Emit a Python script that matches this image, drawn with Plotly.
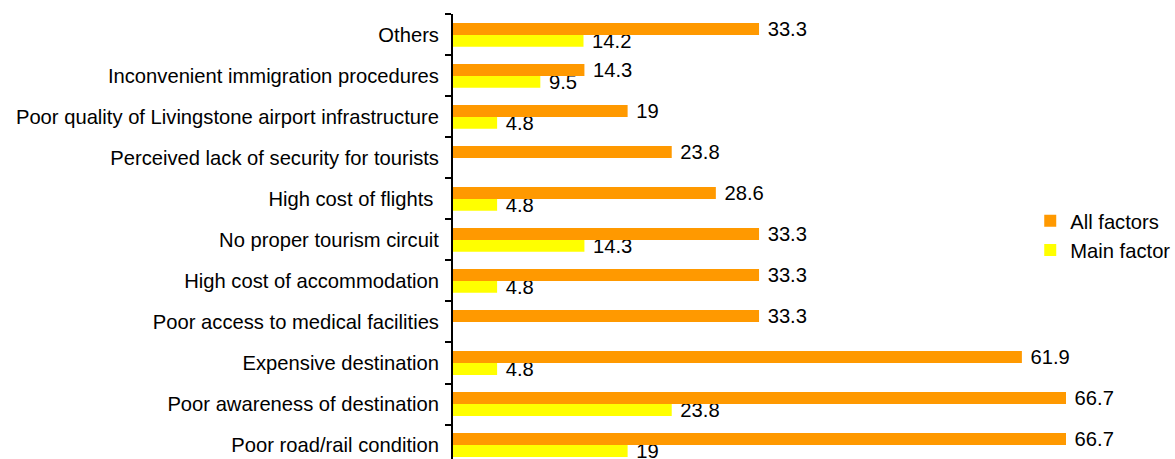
import plotly.graph_objects as go

# Factors listed bottom-to-top as they appear on the chart
factors = [
    "Poor road/rail condition",
    "Poor awareness of destination",
    "Expensive destination",
    "Poor access to medical facilities",
    "High cost of accommodation",
    "No proper tourism circuit",
    "High cost of flights\u00a0",
    "Perceived lack of security for tourists",
    "Poor quality of Livingstone airport infrastructure",
    "Inconvenient immigration procedures",
    "Others",
]
all_factors = [66.7, 66.7, 61.9, 33.3, 33.3, 33.3, 28.6, 23.8, 19, 14.3, 33.3]
main_factor = [19, 23.8, 4.8, None, 4.8, 14.3, 4.8, None, 4.8, 9.5, 14.2]

FONT = "Liberation Sans, Arial, Helvetica, sans-serif"
FS = 20.2

fig = go.Figure()
# Main factor first so it sits below the "All factors" bar in each group
fig.add_trace(go.Bar(
    y=factors, x=main_factor, orientation="h", name="Main factor",
    marker=dict(color="#FFFF00", line=dict(width=0)),
    text=main_factor, texttemplate=" %{x}", textposition="outside",
    constraintext="none",
    textfont=dict(family=FONT, size=FS, color="#000000"),
    cliponaxis=False, legendgroup="b",
))
fig.add_trace(go.Bar(
    y=factors, x=all_factors, orientation="h", name="All factors",
    marker=dict(color="#FF9900", line=dict(width=0)),
    text=all_factors, texttemplate=" %{x}", textposition="outside",
    constraintext="none",
    textfont=dict(family=FONT, size=FS, color="#000000"),
    cliponaxis=False, legendgroup="a",
))

fig.update_layout(
    width=1175, height=459,
    margin=dict(l=453, r=0, t=14, b=0, pad=0, autoexpand=False),
    paper_bgcolor="white", plot_bgcolor="white",
    barmode="group", bargap=0.42, bargroupgap=0,
    font=dict(family=FONT, size=FS, color="#000000"),
    showlegend=True,
    legend=dict(
        x=0.7995, xanchor="left", y=0.502, yanchor="middle",
        traceorder="reversed", tracegroupgap=5,
        font=dict(family=FONT, size=FS, color="#000000"),
        bgcolor="rgba(0,0,0,0)", borderwidth=0,
    ),
    xaxis=dict(
        range=[0, 78.56], visible=False, showgrid=False, zeroline=False,
    ),
    yaxis=dict(
        type="category", range=[-0.341, 10.51],
        showline=True, linecolor="#000000", linewidth=2,
        ticks="outside", tickson="boundaries", ticklen=6, tickwidth=2,
        tickcolor="#000000", ticklabelstandoff=8,
        showgrid=False, zeroline=False,
        tickfont=dict(family=FONT, size=FS, color="#000000"),
    ),
    annotations=[dict(
        text="<b>Chart 5: Factors constraining tourism to the area (% of respondents)</b>",
        xref="paper", yref="paper", x=-0.104, y=1 + 14 / 445,
        xanchor="right", yanchor="bottom", yshift=-2, showarrow=False,
        font=dict(family=FONT, size=16, color="#000000"),
    )],
)

fig.write_html("out.html")
